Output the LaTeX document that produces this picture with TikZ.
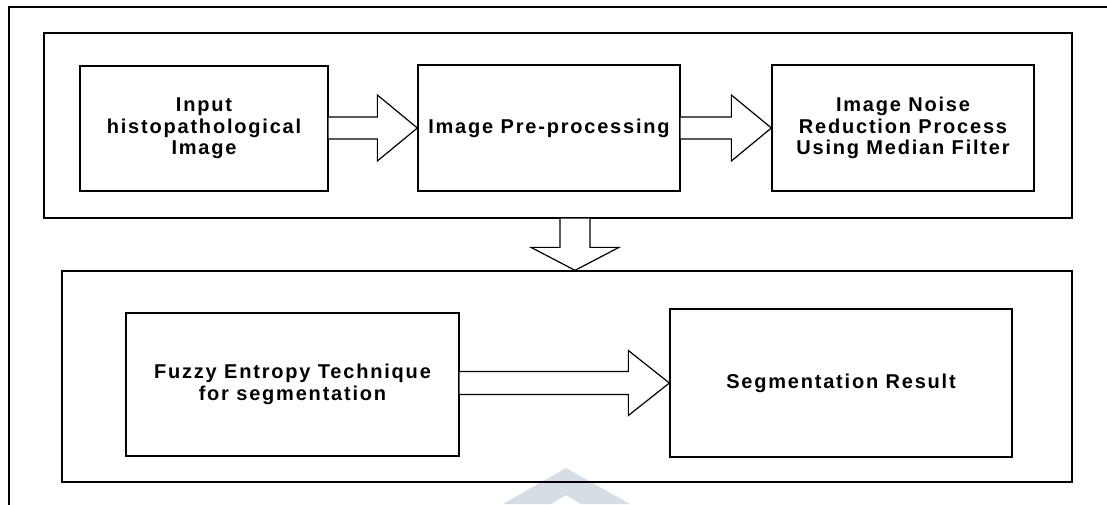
\documentclass[tikz,border=0pt]{standalone}
\usepackage{fontspec}
\setmainfont{Liberation Sans}
\newfontfamily\labelfont{Liberation Sans}[LetterSpace=9]
\usetikzlibrary{calc}
\definecolor{emblem}{HTML}{D5DEE4}
\tikzset{
  frame/.style={draw=black, line width=1.4pt},
  grp/.style={draw=black, line width=1.3pt, inner sep=0pt},
  box/.style={draw=black, line width=1.3pt, inner sep=0pt, align=center,
    font={\labelfont\bfseries\fontsize{20}{21.5}\selectfont}},
  blockarrow/.style={draw=black, line width=1.2pt, fill=white, line join=miter},
}
% horizontal block arrow: from node, to node, shaft half width, head half width, head length
\newcommand\harrow[5]{%
  \draw[blockarrow]
    ($(#1.east |- #2.west)+(0,-#3)$) -- ($(#2.west)+(-#5,-#3)$) --
    ($(#2.west)+(-#5,-#4)$) -- (#2.west) -- ($(#2.west)+(-#5,#4)$) --
    ($(#2.west)+(-#5,#3)$) -- ($(#1.east |- #2.west)+(0,#3)$);}
% vertical block arrow: tail point, tip point, shaft half width, head half width, head length
\newcommand\varrow[5]{%
  \draw[blockarrow]
    ($(#1)+(-#3,0)$) -- ($(#2)+(-#3,-#5)$) --
    ($(#2)+(-#4,-#5)$) -- (#2) -- ($(#2)+(#4,-#5)$) --
    ($(#2)+(#3,-#5)$) -- ($(#1)+(#3,0)$);}
\begin{document}
\begin{tikzpicture}[x=1pt,y=-1pt]
\useasboundingbox (0,0) rectangle (1107,504);
\fill[white] (0,0) rectangle (1107,504);

% faint emblem at the bottom edge
\fill[emblem] (566,468) -- (630,504) -- (581,504) -- (566,495) -- (551,504) -- (503,504) -- cycle;

% outer frame (runs past the right and bottom edges)
\begin{scope}
  \clip (0,0) rectangle (1107,504);
  \draw[frame] (9,7) rectangle (1130,530);
\end{scope}

% group frames
\node[grp, minimum width=1028, minimum height=185] (topgrp) at (558,125.5) {};
\node[grp, minimum width=1010, minimum height=211] (botgrp) at (567,376.5) {};

% process boxes
\node[box, minimum width=248, minimum height=125] (input) at (204,128.5)
  {Input\\histopathological\\Image};
\node[box, minimum width=262, minimum height=126] (prep) at (549,128)
  {Image Pre-processing};
\node[box, minimum width=262, minimum height=126] (noise) at (903,128)
  {Image Noise\\Reduction Process\\Using Median Filter};
\node[box, minimum width=333, minimum height=143] (fuzzy) at (292.5,384.5)
  {Fuzzy Entropy Technique\\for segmentation};
\node[box, minimum width=342, minimum height=148] (result) at (841,383)
  {Segmentation Result};

% block arrows
\harrow{input}{prep}{11}{33}{40}
\harrow{prep}{noise}{11}{33}{40}
\harrow{fuzzy}{result}{11.5}{32.5}{41}
\coordinate (droptail) at (topgrp.south -| 575,0);
\coordinate (droptip) at (botgrp.north -| 575,0);
\varrow{droptail}{droptip}{15}{44}{23}
\end{tikzpicture}
\end{document}
